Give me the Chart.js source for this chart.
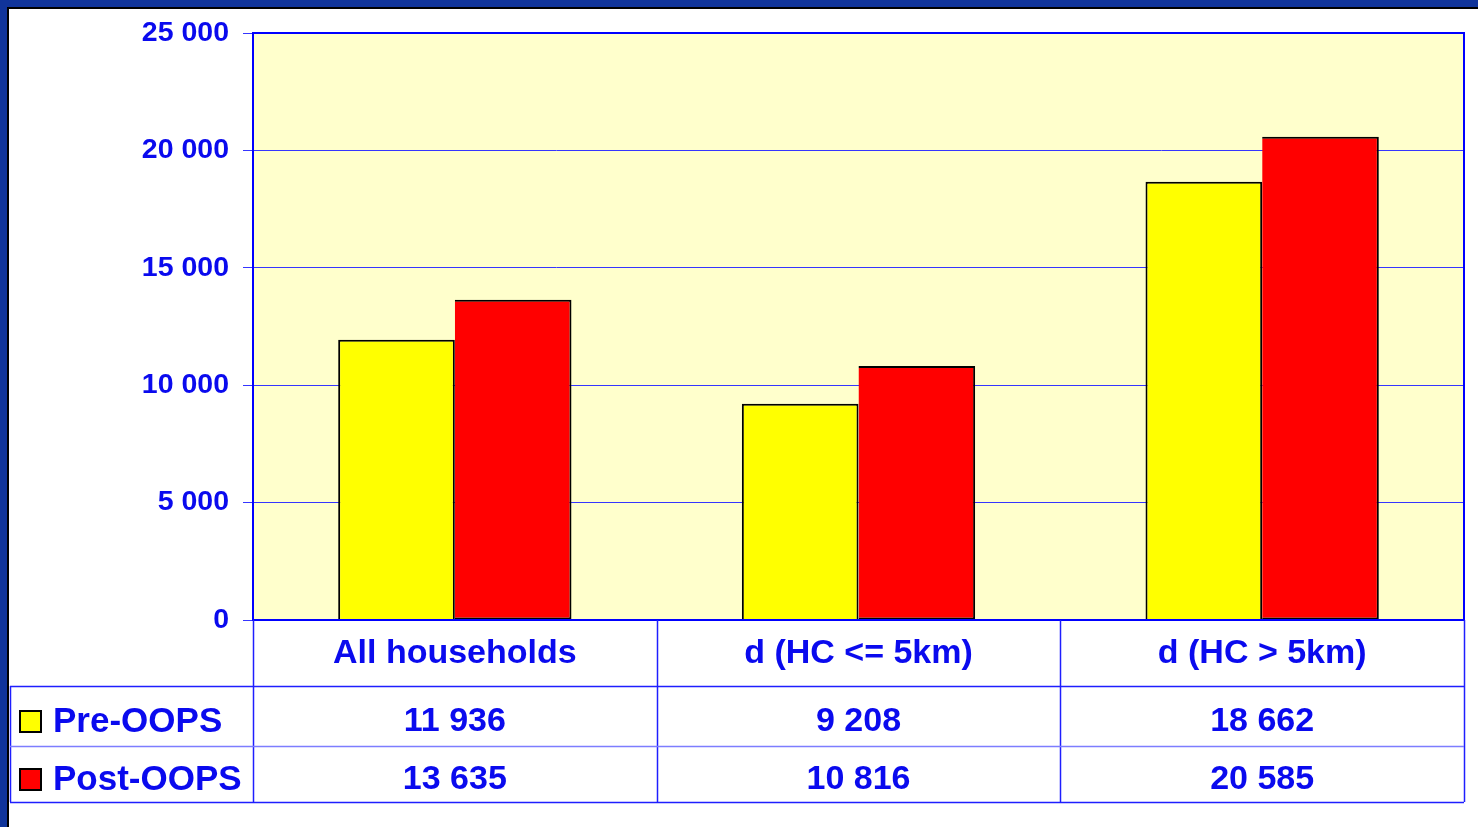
<!DOCTYPE html>
<html>
<head>
<meta charset="utf-8">
<title>Pre-OOPS / Post-OOPS</title>
<script src="https://cdn.jsdelivr.net/npm/chart.js@4/dist/chart.umd.min.js"></script>
<style>
  html, body { margin: 0; padding: 0; background: #ffffff; overflow: hidden; }
  canvas { display: block; }
</style>
</head>
<body>
<canvas id="chart" width="1478" height="827"></canvas>
<script>
// values as printed in the data table under the chart
var categories = ["All households", "d (HC <= 5km)", "d (HC > 5km)"];
var seriesNames = ["Pre-OOPS", "Post-OOPS"];
var preOops = [11936, 9208, 18662];
var postOops = [13635, 10816, 20585];
var yMin = 0, yMax = 25000, yStep = 5000;

(function () {
  "use strict";

  var BLUE_TEXT = "#0a0aee";
  var GRID = "#3535ff";
  var FONT = '"Liberation Sans", Arial, sans-serif';
  var colors = ["#ffff00", "#ff0000"];

  function fmt(n) {
    return String(n).replace(/\B(?=(\d{3})+(?!\d))/g, " ");
  }

  // dark frame + pale plot background
  var backdrop = {
    id: "backdrop",
    beforeDraw: function (chart) {
      var ctx = chart.ctx, a = chart.chartArea;
      ctx.save();
      ctx.fillStyle = "#10349a";
      ctx.fillRect(0, 0, chart.width, chart.height);
      ctx.fillStyle = "#000000";
      ctx.fillRect(7, 7, chart.width, chart.height);
      ctx.fillStyle = "#ffffff";
      ctx.fillRect(9, 9, chart.width, chart.height);
      ctx.fillStyle = "#ffffcc";
      ctx.fillRect(a.left, a.top, a.right - a.left, a.bottom - a.top);
      ctx.restore();
    }
  };

  // plot border and the data table with legend keys
  var dataTable = {
    id: "dataTable",
    afterDraw: function (chart) {
      var ctx = chart.ctx, a = chart.chartArea, x = chart.scales.x;
      var rowTop = [a.bottom, 686, 746, 802];
      var left = 10;
      var bounds = [a.left];
      for (var i = 0; i < categories.length - 1; i++) {
        bounds.push((x.getPixelForValue(i) + x.getPixelForValue(i + 1)) / 2);
      }
      bounds.push(a.right);

      ctx.save();
      // plot frame
      ctx.strokeStyle = "#0000ff";
      ctx.lineWidth = 2;
      ctx.beginPath();
      ctx.moveTo(a.left, a.top);
      ctx.lineTo(a.right, a.top);
      ctx.lineTo(a.right, a.bottom);
      ctx.lineTo(a.left, a.bottom);
      ctx.stroke();

      // table grid
      ctx.lineWidth = 1.5;
      ctx.strokeStyle = "#1e1eff";
      bounds.forEach(function (bx) {
        ctx.beginPath();
        ctx.moveTo(Math.round(bx) + 0.5, a.bottom);
        ctx.lineTo(Math.round(bx) + 0.5, rowTop[3]);
        ctx.stroke();
      });
      ctx.beginPath();
      ctx.moveTo(left + 0.5, rowTop[1]);
      ctx.lineTo(left + 0.5, rowTop[3]);
      ctx.stroke();
      [rowTop[1], rowTop[3]].forEach(function (y) {
        ctx.beginPath();
        ctx.moveTo(left, y + 0.5);
        ctx.lineTo(a.right, y + 0.5);
        ctx.stroke();
      });
      ctx.strokeStyle = "#7d7dff";
      ctx.beginPath();
      ctx.moveTo(left, rowTop[2] + 0.5);
      ctx.lineTo(a.right, rowTop[2] + 0.5);
      ctx.stroke();

      // header row
      ctx.fillStyle = BLUE_TEXT;
      ctx.font = "bold 34px " + FONT;
      ctx.textAlign = "center";
      ctx.textBaseline = "middle";
      categories.forEach(function (c, i) {
        ctx.fillText(c, x.getPixelForValue(i), 654);
      });

      // value rows
      var rows = [preOops, postOops];
      var rowMid = [722, 780];
      rows.forEach(function (vals, r) {
        ctx.textAlign = "center";
        ctx.fillStyle = BLUE_TEXT;
        ctx.font = "bold 34px " + FONT;
        vals.forEach(function (v, i) {
          ctx.fillText(fmt(v), x.getPixelForValue(i), rowMid[r]);
        });
        // legend key
        ctx.fillStyle = colors[r];
        ctx.fillRect(20, rowMid[r] - 11, 21, 21);
        ctx.strokeStyle = "#000000";
        ctx.lineWidth = 2;
        ctx.strokeRect(20, rowMid[r] - 11, 21, 21);
        ctx.fillStyle = BLUE_TEXT;
        ctx.textAlign = "left";
        ctx.font = "bold 35px " + FONT;
        ctx.fillText(seriesNames[r], 53, rowMid[r]);
      });
      ctx.restore();
    }
  };

  var canvas = document.getElementById("chart");
  new Chart(canvas, {
    type: "bar",
    data: {
      labels: categories,
      datasets: [
        {
          label: seriesNames[0],
          data: preOops,
          backgroundColor: colors[0],
          borderColor: "#000000",
          borderWidth: 2,
          categoryPercentage: 0.578,
          barPercentage: 1.0
        },
        {
          label: seriesNames[1],
          data: postOops,
          backgroundColor: colors[1],
          borderColor: "#000000",
          borderWidth: 2,
          borderSkipped: "left",
          categoryPercentage: 0.578,
          barPercentage: 1.0
        }
      ]
    },
    options: {
      responsive: false,
      animation: false,
      layout: { padding: { left: 0, top: 33, right: 14, bottom: 207 } },
      plugins: {
        legend: { display: false },
        tooltip: { enabled: false }
      },
      scales: {
        x: { display: false },
        y: {
          min: yMin,
          max: yMax,
          afterFit: function (scale) { scale.width = 253; },
          ticks: {
            stepSize: yStep,
            padding: 14,
            color: BLUE_TEXT,
            font: { family: FONT, size: 28.5, weight: "bold" },
            callback: function (v) { return fmt(v); }
          },
          grid: {
            color: GRID,
            lineWidth: 1,
            tickLength: 10,
            drawTicks: true
          },
          border: { display: true, color: "#0000ff", width: 2 }
        }
      }
    },
    plugins: [backdrop, dataTable]
  });
})();
</script>
</body>
</html>
